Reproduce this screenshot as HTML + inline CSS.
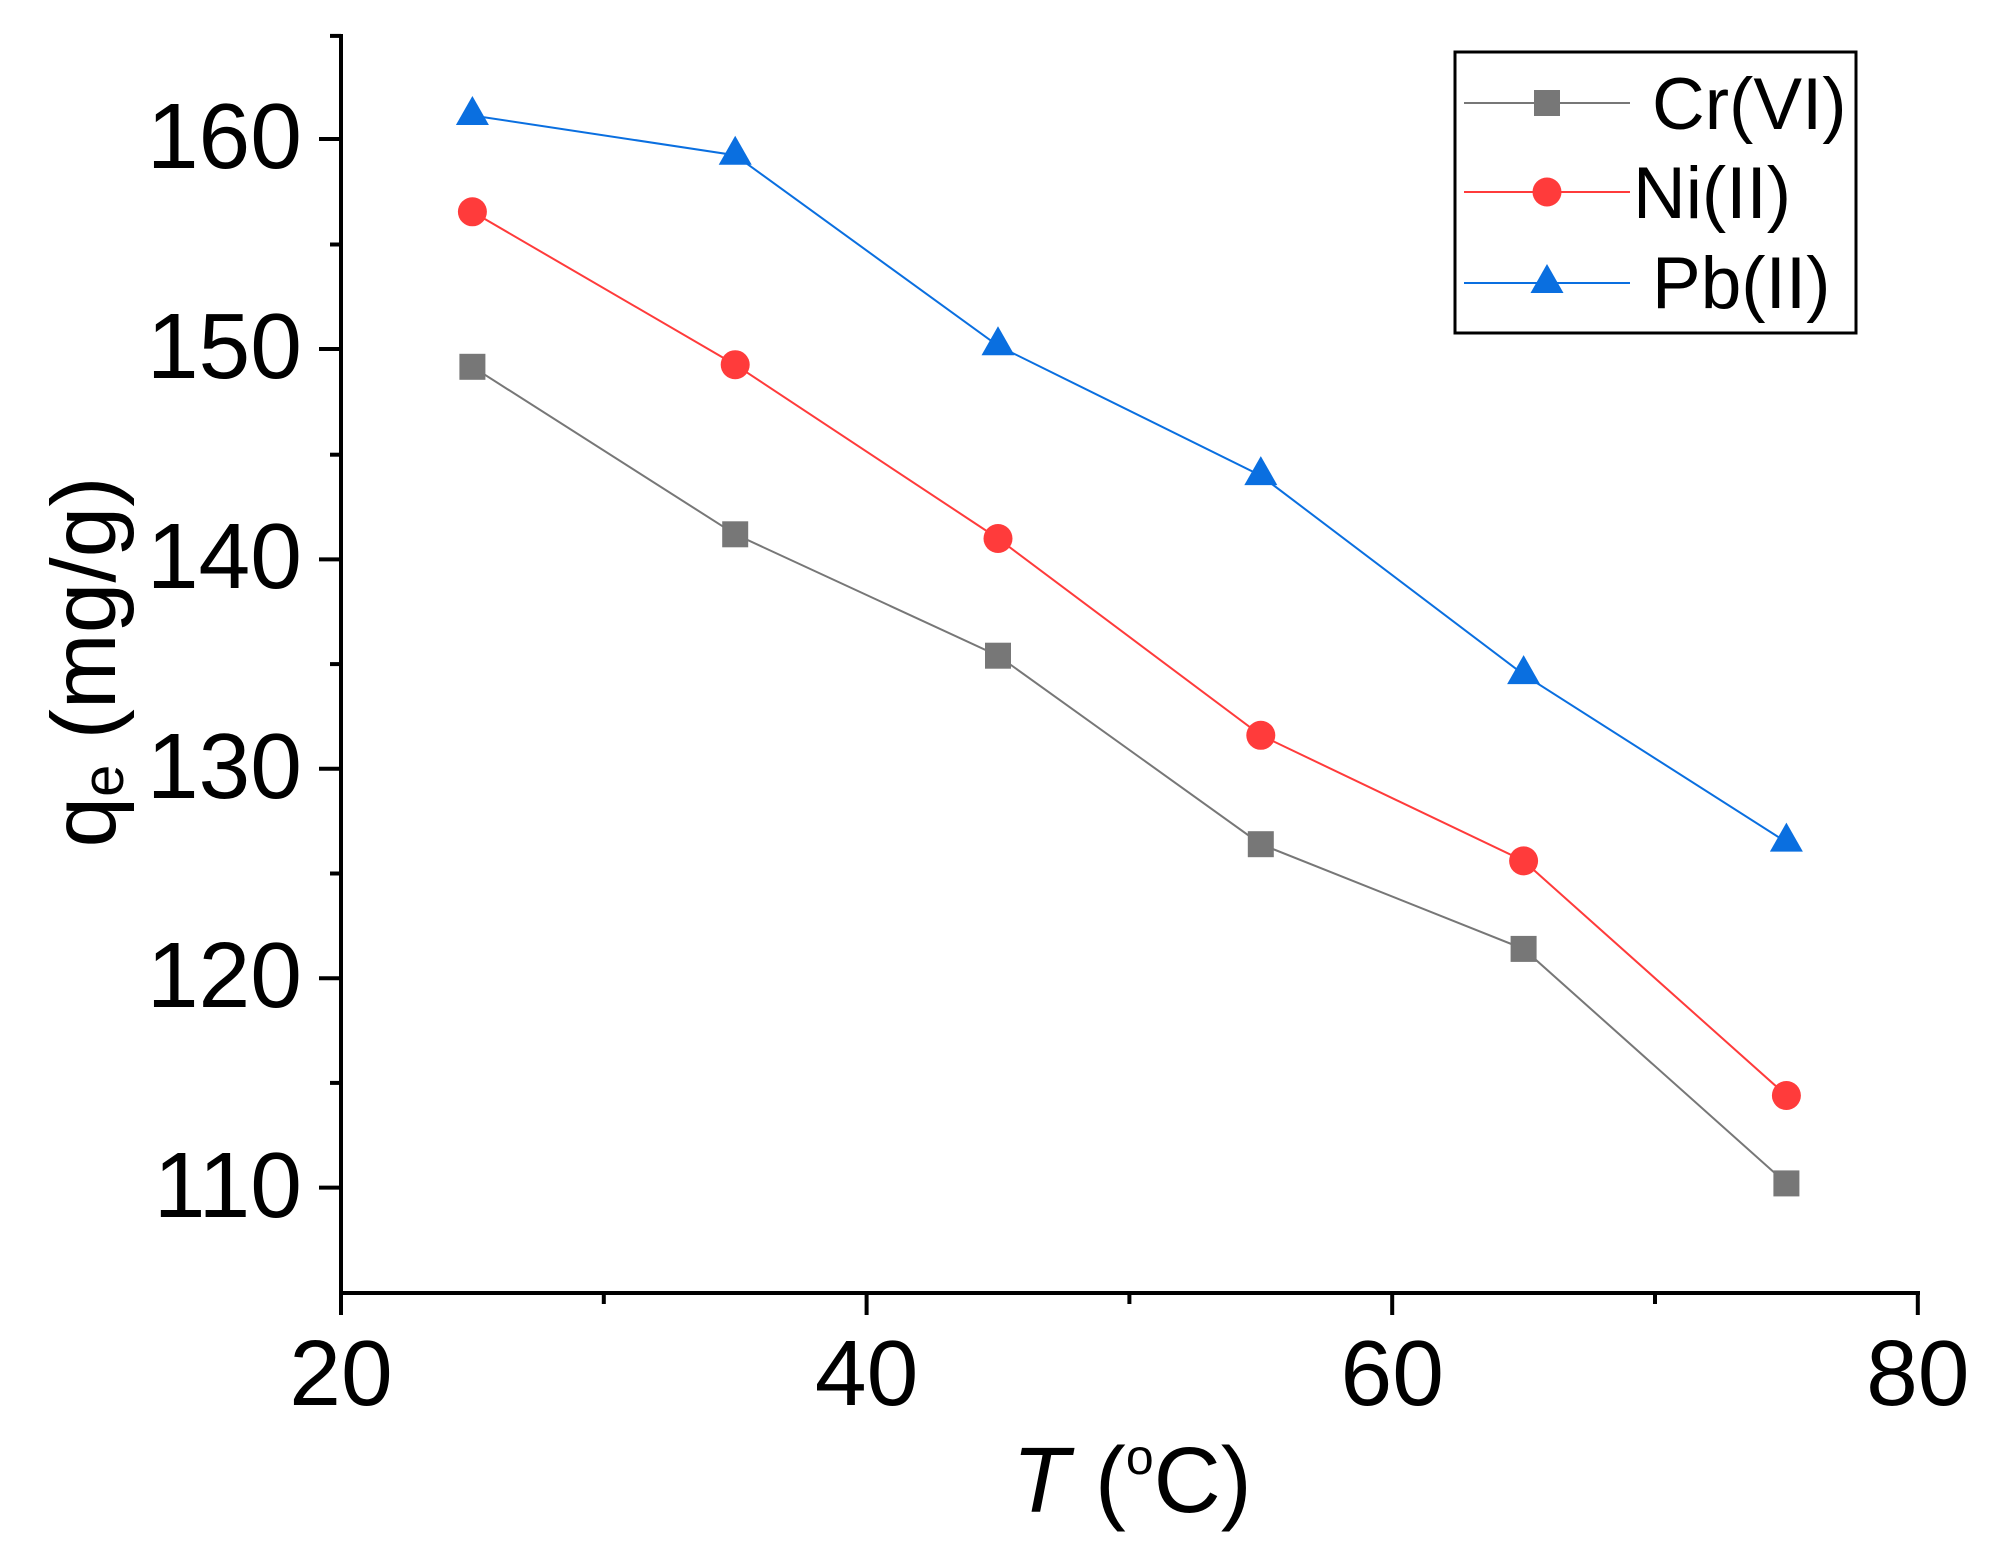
<!DOCTYPE html>
<html><head><meta charset="utf-8"><style>html,body{margin:0;padding:0;background:#fff}svg{display:block}</style></head>
<body>
<svg width="1994" height="1548" viewBox="0 0 1994 1548" xmlns="http://www.w3.org/2000/svg" font-family="Liberation Sans, sans-serif">
<rect width="1994" height="1548" fill="#fff"/>
<g stroke="#000" stroke-width="4" fill="none">
<line x1="341" y1="34" x2="341" y2="1295"/>
<line x1="339" y1="1293" x2="1920" y2="1293"/>
<line x1="341" y1="1293" x2="341" y2="1315"/>
<line x1="866.6" y1="1293" x2="866.6" y2="1315"/>
<line x1="1392.2" y1="1293" x2="1392.2" y2="1315"/>
<line x1="1917.8" y1="1291" x2="1917.8" y2="1315"/>
<line x1="603.8" y1="1293" x2="603.8" y2="1304"/>
<line x1="1129.4" y1="1293" x2="1129.4" y2="1304"/>
<line x1="1655" y1="1293" x2="1655" y2="1304"/>
<line x1="319" y1="1187.6" x2="341" y2="1187.6"/>
<line x1="319" y1="978.2" x2="341" y2="978.2"/>
<line x1="319" y1="768.8" x2="341" y2="768.8"/>
<line x1="319" y1="559.4" x2="341" y2="559.4"/>
<line x1="319" y1="349" x2="341" y2="349"/>
<line x1="319" y1="139" x2="341" y2="139"/>
<line x1="330" y1="1082.9" x2="341" y2="1082.9"/>
<line x1="330" y1="873.5" x2="341" y2="873.5"/>
<line x1="330" y1="664.1" x2="341" y2="664.1"/>
<line x1="330" y1="454.7" x2="341" y2="454.7"/>
<line x1="330" y1="244.5" x2="341" y2="244.5"/>
<line x1="330" y1="35.9" x2="341" y2="35.9"/>
</g>
<g font-size="93" fill="#000">
<g text-anchor="end">
<text x="302" y="1217">110</text>
<text x="302" y="1007">120</text>
<text x="302" y="798">130</text>
<text x="302" y="588">140</text>
<text x="302" y="378">150</text>
<text x="302" y="168">160</text>
</g>
<g text-anchor="middle">
<text x="341" y="1405">20</text>
<text x="866.6" y="1405">40</text>
<text x="1392.2" y="1405">60</text>
<text x="1917.8" y="1405">80</text>
</g>
<text x="1132" y="1512" text-anchor="middle"><tspan font-style="italic">T</tspan> (<tspan font-size="50" dy="-38">o</tspan><tspan dy="38">C)</tspan></text>
<text transform="translate(115,662) rotate(-90)" text-anchor="middle" font-size="91">q<tspan font-size="58" dy="8">e</tspan><tspan dy="-8"> (mg/g)</tspan></text>
</g>
<polyline fill="none" stroke="#777" stroke-width="2" points="472.4,366.8 735.2,534.3 998,655.7 1260.8,844.2 1523.6,948.9 1786.4,1183.4"/>
<polyline fill="none" stroke="#ff3b3b" stroke-width="2" points="472.4,211.8 735.2,364.7 998,538.5 1260.8,735.3 1523.6,860.9 1786.4,1095.5"/>
<polyline fill="none" stroke="#0a6fe0" stroke-width="2" points="472.4,115.5 735.2,155.2 998,345.8 1260.8,475.6 1523.6,674.6 1786.4,842.1"/>
<g fill="#777">
<rect x="459.4" y="353.8" width="26" height="26"/><rect x="722.2" y="521.3" width="26" height="26"/><rect x="985" y="642.7" width="26" height="26"/><rect x="1247.8" y="831.2" width="26" height="26"/><rect x="1510.6" y="935.9" width="26" height="26"/><rect x="1773.4" y="1170.4" width="26" height="26"/>
</g>
<g fill="#ff3b3b">
<circle cx="472.4" cy="211.8" r="14.5"/><circle cx="735.2" cy="364.7" r="14.5"/><circle cx="998" cy="538.5" r="14.5"/><circle cx="1260.8" cy="735.3" r="14.5"/><circle cx="1523.6" cy="860.9" r="14.5"/><circle cx="1786.4" cy="1095.5" r="14.5"/>
</g>
<g fill="#0a6fe0">
<path d="M472.4,96 l16.5,29 h-33z"/><path d="M735.2,135.7 l16.5,29 h-33z"/><path d="M998,326.3 l16.5,29 h-33z"/><path d="M1260.8,456.1 l16.5,29 h-33z"/><path d="M1523.6,655.1 l16.5,29 h-33z"/><path d="M1786.4,822.6 l16.5,29 h-33z"/>
</g>
<rect x="1455" y="52" width="401" height="281" fill="#fff" stroke="#000" stroke-width="3"/>
<line x1="1464" y1="103" x2="1630" y2="103" stroke="#777" stroke-width="2"/>
<rect x="1534" y="90" width="26" height="26" fill="#777"/>
<line x1="1464" y1="192" x2="1630" y2="192" stroke="#ff3b3b" stroke-width="2"/>
<circle cx="1547" cy="192" r="14.5" fill="#ff3b3b"/>
<line x1="1464" y1="283" x2="1630" y2="283" stroke="#0a6fe0" stroke-width="2"/>
<path d="M1547,264 l16.5,29 h-33z" fill="#0a6fe0"/>
<g font-size="73" fill="#000">
<text x="1652" y="129">Cr(VI)</text>
<text x="1633" y="218">Ni(II)</text>
<text x="1652" y="308">Pb(II)</text>
</g>
</svg>
</body></html>
